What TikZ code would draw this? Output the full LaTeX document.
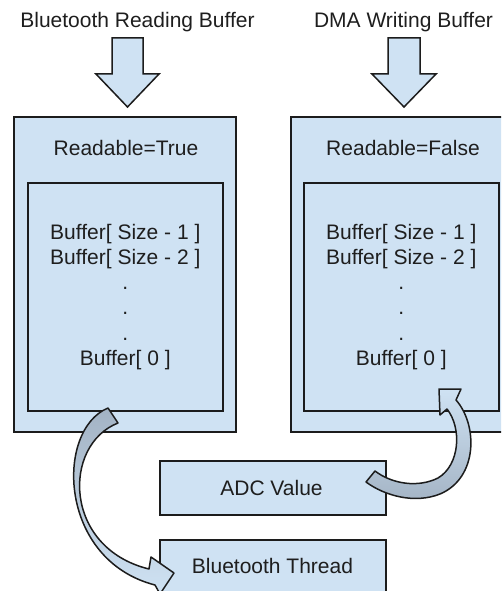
\documentclass[tikz,border=0pt]{standalone}
\usepackage{fontspec}
\setmainfont{Liberation Sans}
\definecolor{boxfill}{HTML}{CFE2F3}
\definecolor{edge}{HTML}{1C1C1C}
\definecolor{ink}{HTML}{1E1E1E}
\definecolor{ribbon}{HTML}{A3B3C4}
\begin{document}
\begin{tikzpicture}[x=1pt,y=-1pt,
  box/.style={draw=edge, fill=boxfill, line width=1.6pt, inner sep=0pt, anchor=north west,
    font=\fontsize{21}{25.2}\selectfont, text=ink, align=center},
  label/.style={font=\fontsize{21}{25.2}\selectfont, text=ink, anchor=base, inner sep=0pt},
  blockarrow/.style={draw=edge, fill=boxfill, line width=1.5pt, line join=miter},
  ribbonarrow/.style={draw=edge, line width=1.5pt, line join=round}]
\useasboundingbox (0,0) rectangle (501,591);
\clip (0,0) rectangle (501,591);

% titles
\node[label] (readtitle) at (137.5,28) {Bluetooth Reading Buffer};
\node[label] (writetitle) at (403.5,28) {DMA Writing Buffer};

% block arrows under the titles
\coordinate (ra) at (127.5,38);
\coordinate (wa) at (404,38);
\draw[blockarrow] ([xshift=-15.5pt]ra) -- ([xshift=15.5pt]ra) -- ([xshift=15.5pt,yshift=-36pt]ra)
  -- ([xshift=31.5pt,yshift=-36pt]ra) -- ([yshift=-69pt]ra) -- ([xshift=-31.5pt,yshift=-36pt]ra)
  -- ([xshift=-15.5pt,yshift=-36pt]ra) -- cycle;
\draw[blockarrow] ([xshift=-16pt]wa) -- ([xshift=16pt]wa) -- ([xshift=16pt,yshift=-36pt]wa)
  -- ([xshift=32pt,yshift=-36pt]wa) -- ([yshift=-69pt]wa) -- ([xshift=-32pt,yshift=-36pt]wa)
  -- ([xshift=-16pt,yshift=-36pt]wa) -- cycle;

% buffers
\node[box, minimum width=222pt, minimum height=315pt] (readbuf) at (13,116) {};
\node[label] (readflag) at (126,155) {Readable=True};
\node[box, minimum width=195pt, minimum height=228pt] (readcells) at (27,182)
  {Buffer[ Size - 1 ]\\Buffer[ Size - 2 ]\\.\\.\\.\\Buffer[ 0 ]};

\node[box, minimum width=222pt, minimum height=315pt] (writebuf) at (290,116) {};
\node[label] (writeflag) at (403,155) {Readable=False};
\node[box, minimum width=195pt, minimum height=228pt] (writecells) at (303,182)
  {Buffer[ Size - 1 ]\\Buffer[ Size - 2 ]\\.\\.\\.\\Buffer[ 0 ]};

% producer and consumer
\node[box, minimum width=226pt, minimum height=54pt] (adc) at (159,460) {};
\node[label] (adctext) at (271.5,495) {ADC Value};
\node[box, minimum width=226pt, minimum height=54pt] (thread) at (159,539) {};
\node[label] (threadtext) at (272.5,573) {Bluetooth Thread};

% curved arrow: reading buffer -> Bluetooth thread
\path[ribbonarrow, top color=ribbon, bottom color=boxfill]
  (108,408) .. controls (55,430) and (58,560) .. (155,585)
  -- (160,594) -- (174,573) -- (151,557) -- (149,569)
  .. controls (63,548) and (62,445) .. (118,423) -- cycle;

% curved arrow: ADC value -> writing buffer
\path[ribbonarrow, top color=boxfill, bottom color=ribbon]
  (456,400) .. controls (478,425) and (478,478) .. (440,494)
  .. controls (415,504) and (385,496) .. (366,482)
  -- (375,471) .. controls (392,484) and (418,488) .. (438,478)
  .. controls (460,465) and (462,428) .. (447,409)
  -- (440,415) -- (439,389) -- (461,389) -- cycle;
\end{tikzpicture}
\end{document}
